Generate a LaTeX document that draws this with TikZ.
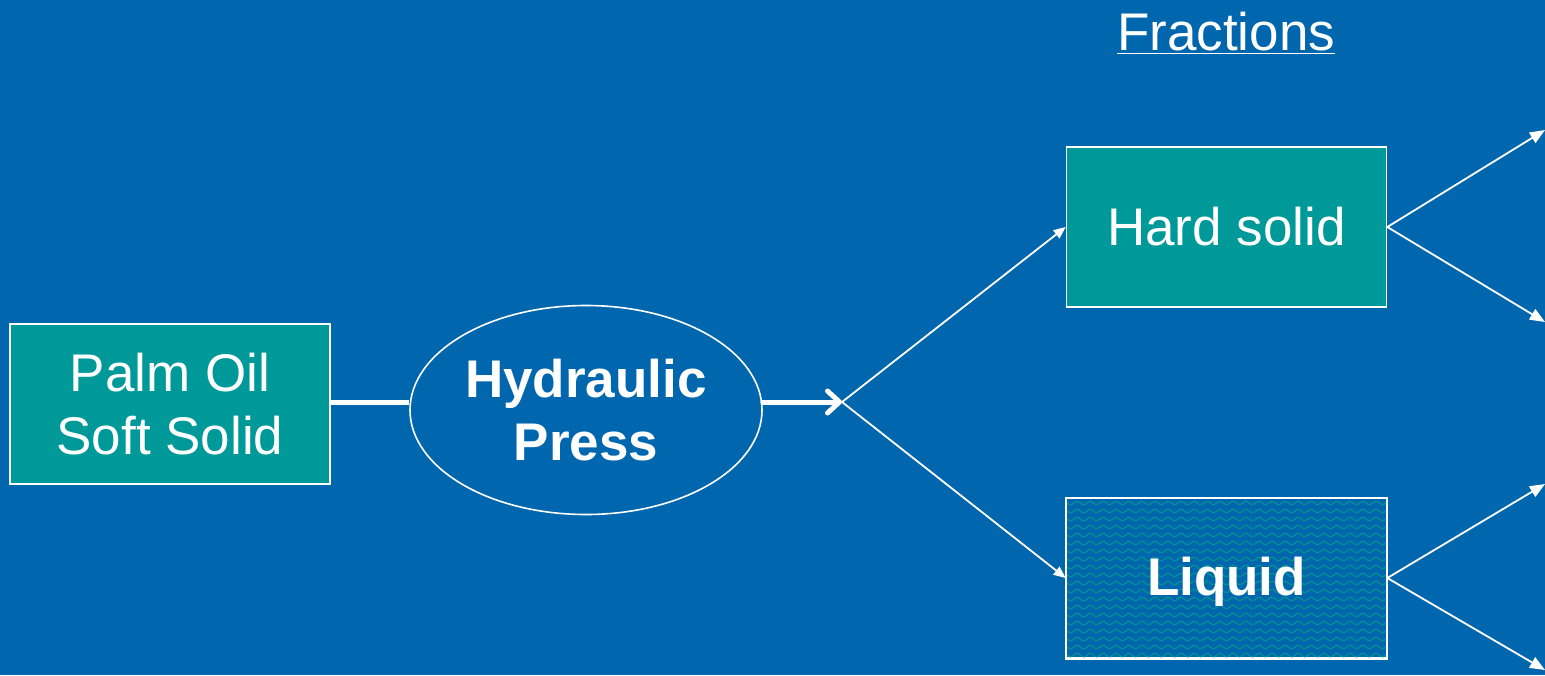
\documentclass[tikz,border=0pt]{standalone}
\usepackage{fontspec}
\setmainfont{Liberation Sans}
\usetikzlibrary{arrows.meta,shapes.geometric,decorations.pathmorphing}
\definecolor{bgblue}{RGB}{0,102,174}
\definecolor{teal}{RGB}{0,153,153}
\definecolor{wave}{RGB}{0,145,150}
\tikzset{
  box/.style={draw=white, line width=1.6pt, fill=teal, minimum width=320pt, minimum height=160pt, inner sep=0pt, align=center, text=white, font=\fontsize{53}{63}\selectfont},
  thin/.style={draw=white, line width=1.8pt, -{Triangle[length=15pt,width=12pt]}},
  thick/.style={draw=white, line width=5pt}
}
\begin{document}
\begin{tikzpicture}[x=1pt,y=-1pt]
\fill[bgblue] (0,0) rectangle (1545,675);
\useasboundingbox (0,0) rectangle (1545,675);
\node[box] (palm) at (170,404) {Palm Oil\\Soft Solid};
\node[draw=white, line width=1.6pt, ellipse, minimum width=352pt, minimum height=209pt, inner sep=0pt, align=center, text=white, font=\fontsize{53}{63}\selectfont\bfseries] (press) at (586,410) {Hydraulic\\Press};
\node[box] (hard) at (1226.5,227) {Hard solid};
\node[box, fill=bgblue] (liquid) at (1226.5,578) {};
\begin{scope}
\clip (1067,499) rectangle (1386,657);
\foreach \yy in {503,511,...,660}{
  \draw[wave, line width=1.3pt, decorate, decoration={snake, amplitude=1.8pt, segment length=13pt}] (1060,\yy) -- (1395,\yy);
}
\end{scope}
\draw[white, line width=1.4pt] (liquid.north west) rectangle (liquid.south east);
\node[text=white, font=\fontsize{53}{63}\selectfont\bfseries] (liqtext) at ([yshift=-4pt]liquid.center) {Liquid};
\node[text=white, font=\fontsize{53}{63}\selectfont] (frac) at (1226,33) {\underline{Fractions}};
\coordinate (split) at (842,402);
\draw[thick] (palm.east |- 0,402) -- (press.west |- 0,402);
\draw[thick, line cap=round, -{Straight Barb[length=12pt,width=22pt,line cap=round,line join=round]}] (press.east |- 0,402) -- (split);
\draw[thin, -{Triangle[length=12pt,width=10pt]}] (split) -- (hard.west);
\draw[thin, -{Triangle[length=12pt,width=10pt]}] (split) -- (liquid.west);
\coordinate (a1) at (1545,130);
\coordinate (a2) at (1545,322);
\coordinate (a3) at (1545,484);
\coordinate (a4) at (1545,670);
\draw[thin] (hard.east) -- (a1);
\draw[thin] (hard.east) -- (a2);
\draw[thin] (liquid.east) -- (a3);
\draw[thin] (liquid.east) -- (a4);
\end{tikzpicture}
\end{document}
